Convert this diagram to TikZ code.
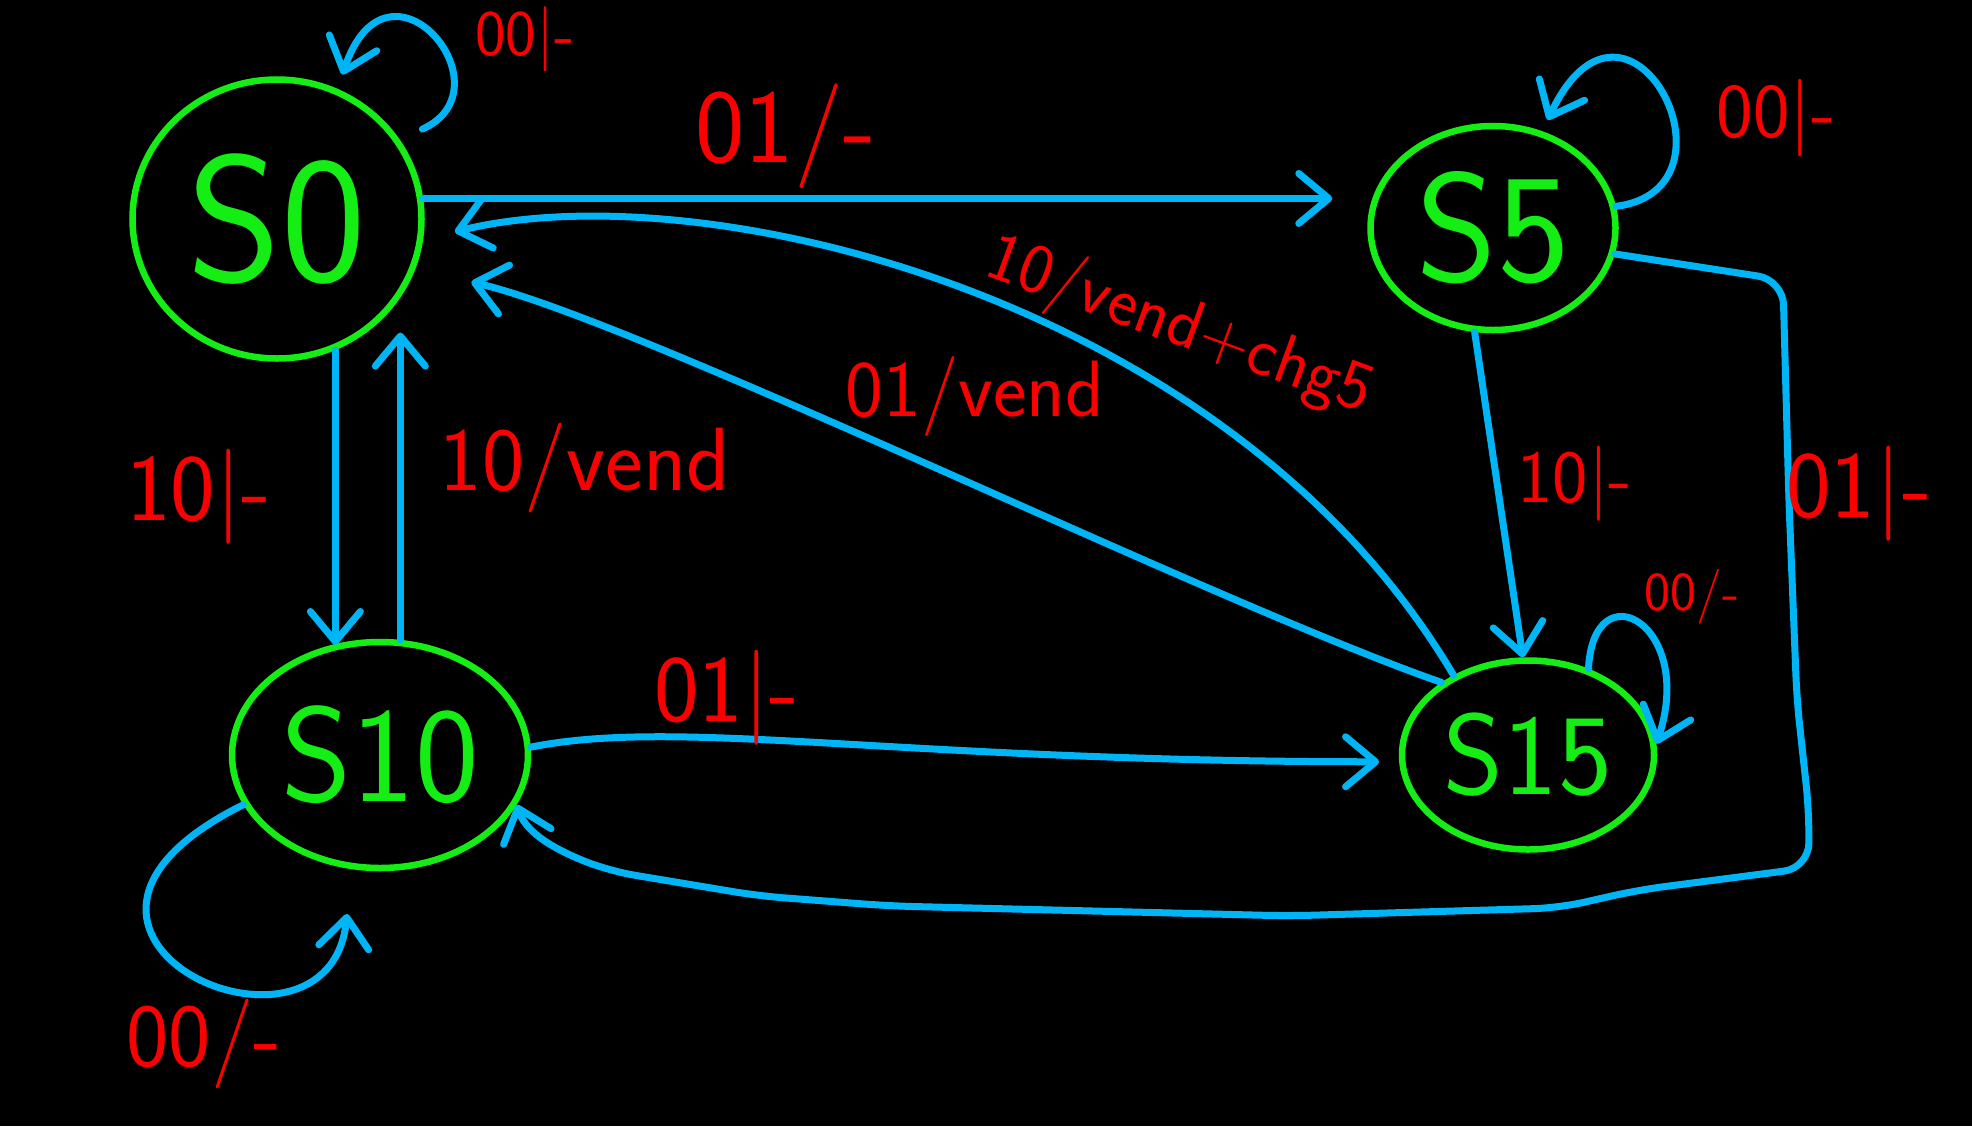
\documentclass[tikz,border=0pt]{standalone}
\usepackage{fontspec}
\usepackage{tikz}
\usetikzlibrary{shapes.geometric,arrows.meta}

\definecolor{wireblue}{RGB}{0,181,245}
\definecolor{stgreen}{RGB}{20,238,20}
\definecolor{inkred}{RGB}{250,0,0}

\tikzset{
  state/.style={ellipse, draw=stgreen, line width=2.6pt, text=stgreen, inner sep=0pt},
  edge/.style={draw=wireblue, line width=2.8pt, line cap=round, line join=round,
    -{Straight Barb[length=12pt,width=20pt,round]}},
  lbl/.style={text=inkred, inner sep=0.75pt}
}

\begin{document}
\begin{tikzpicture}[x=0.4pt,y=0.4pt,yscale=-1,xscale=1]
%set diagram left start at 0, width 1972 and height 1126
\path [use as bounding box, fill=black] (0,0) rectangle (1972,1126);

%States
\node [state, minimum width=115.6pt, minimum height=111.6pt, font=\sffamily\fontsize{72}{72}\selectfont] (s0) at (277,219) {S0};
\node [state, minimum width=98pt, minimum height=81.6pt, font=\sffamily\fontsize{62}{62}\selectfont] (s5) at (1493,228) {S5};
\node [state, minimum width=118.4pt, minimum height=90.4pt, font=\sffamily\fontsize{54}{54}\selectfont] (s10) at (380,755) {S10};
\node [state, minimum width=100.8pt, minimum height=75.6pt, font=\sffamily\fontsize{46}{46}\selectfont] (s15) at (1528,755) {S15};

%Self loops
\draw [edge, shorten <=10pt, shorten >=6pt] (s0.33) .. controls +(113,-51) and +(50,-150) .. (s0.65);
\draw [edge, shorten >=5pt] (s5.10) .. controls +(135,-17) and +(85,-180) .. (s5.63);
\draw [edge] (s15.55) .. controls +(5,-100) and +(40,-120) .. (s15.5);
\draw [edge, shorten >=18pt] (s10.200) .. controls +(-262,130) and +(-22,220) .. (s10.256);

%Straight Lines
\draw [edge, shorten >=14pt] (s0.8) -- (s0.8 -| s5.west);
\draw [edge] (s0.-66) -- (s0.-66 |- s10.114);
\draw [edge, shorten >=8pt] (s10.80) -- (s10.80 |- s0.-40);
\draw [edge] (s5.-100) -- (s15.93);

%Curves
\draw [edge, shorten >=8pt] (s10.3) .. controls +(150,-30) and +(-500,0) .. (s15.183);
\draw [edge, shorten >=23pt] (s15.140) .. controls +(-230,-80) and +(220,50) .. (s0.-20);
\draw [edge, shorten >=13pt] (s15.133) .. controls +(-224,-378) and +(280,-69) .. (s0.-8);
\draw [edge, rounded corners=10pt] (s5.-12) -- ++(168,26) -- ++(6,220) -- ++(8,200) -- ++(12,110)
  -- ++(0,58) -- ++(-170,22) -- ++(-80,18) -- ++(-270,8) -- ++(-400,-10) -- ++(-130,-10)
  -- ++(-150,-25) .. controls +(-50,-20) and +(10,30) .. (s10.-20);

% Text Node
\node [lbl, font=\sffamily\fontsize{42}{42}\selectfont] (l0to5) at (786,136) {01/-};
% Text Node
\node [lbl, font=\sffamily\fontsize{26}{26}\selectfont] (l0loop) at (525,39) {00|-};
% Text Node
\node [lbl, font=\sffamily\fontsize{31}{31}\selectfont] (l5loop) at (1776,118) {00|-};
% Text Node
\node [lbl, font=\sffamily\fontsize{38}{38}\selectfont] (l0to10) at (199,497) {10|-};
% Text Node
\node [lbl, font=\sffamily\fontsize{36}{36}\selectfont] (l10to0) at (585,468) {10/vend};
% Text Node
\node [lbl, font=\sffamily\fontsize{32}{32}\selectfont] (l15to0a) at (975,396) {01/vend};
% Text Node
\node [lbl, rotate=-20, font=\sffamily\fontsize{28}{28}\selectfont] (l15to0b) at (1179,327) {10/vend+chg5};
% Text Node
\node [lbl, font=\sffamily\fontsize{30}{30}\selectfont] (l5to15) at (1575,484) {10|-};
% Text Node
\node [lbl, font=\sffamily\fontsize{38}{38}\selectfont] (l5to10) at (1859,494) {01|-};
% Text Node
\node [lbl, font=\sffamily\fontsize{22}{22}\selectfont] (l15loop) at (1692,597) {00/-};
% Text Node
\node [lbl, font=\sffamily\fontsize{38}{38}\selectfont] (l10to15) at (727,698) {01|-};
% Text Node
\node [lbl, font=\sffamily\fontsize{36}{36}\selectfont] (l10loop) at (204,1044) {00/-};
\end{tikzpicture}
\end{document}
